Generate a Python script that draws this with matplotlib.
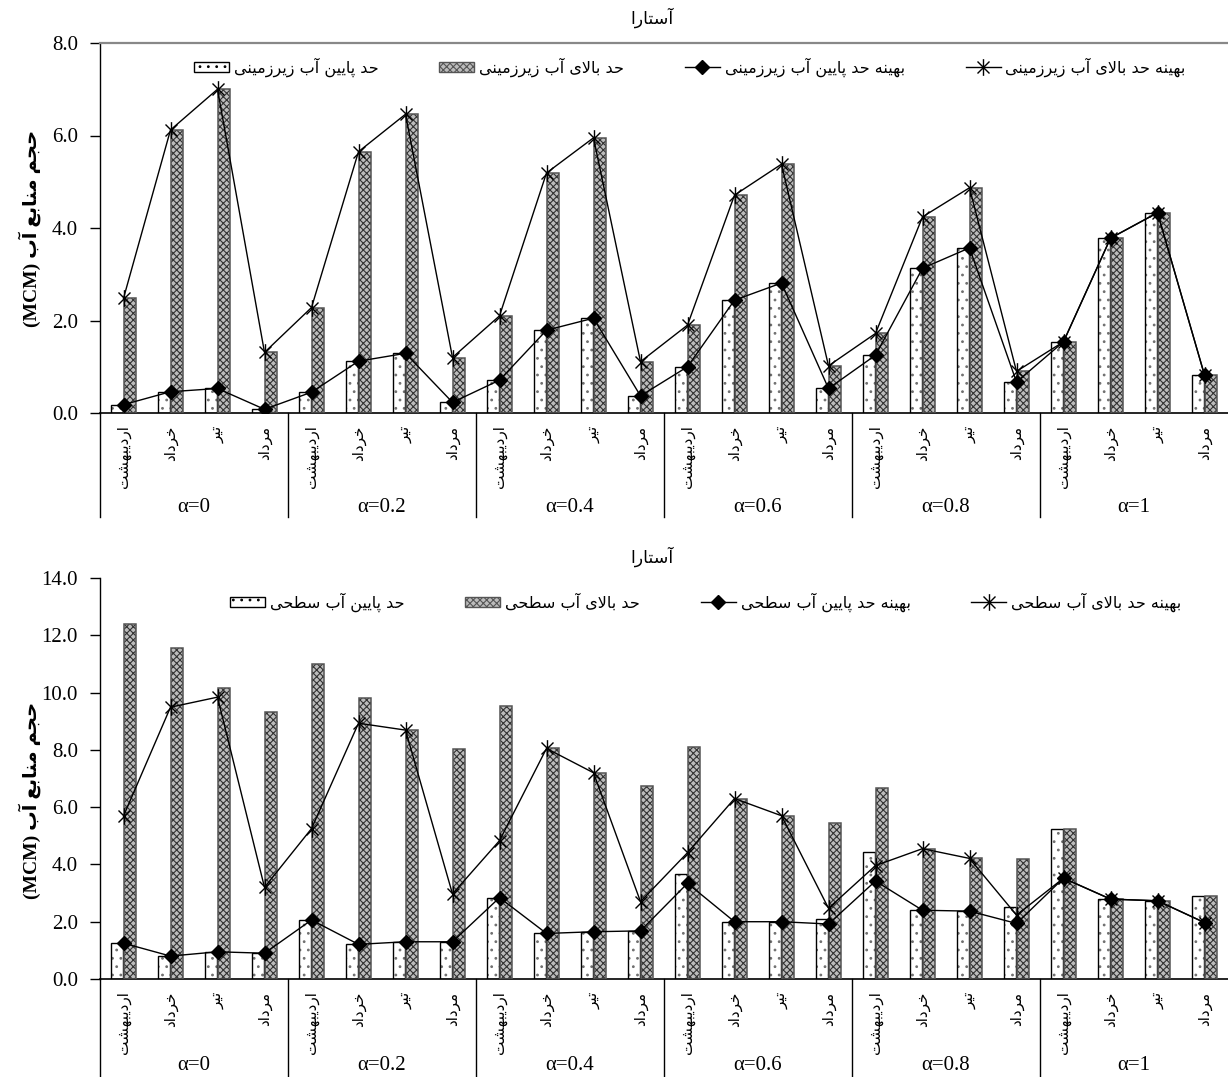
import numpy as np
import matplotlib
matplotlib.use('Agg')
import matplotlib.pyplot as plt
from matplotlib.path import Path
from matplotlib.patches import Patch
from matplotlib.lines import Line2D
from matplotlib.ticker import FormatStrFormatter
from matplotlib.transforms import blended_transform_factory as btf

# ---------------- data ----------------
title_text = 'آستارا'
months = ['اردیبهشت', 'خرداد', 'تیر', 'مرداد']
alphas = ['α=0', 'α=0.2', 'α=0.4', 'α=0.6', 'α=0.8', 'α=1']

gw_labels = ['حد پایین آب زیرزمینی', 'حد بالای آب زیرزمینی',
             'بهینه حد پایین آب زیرزمینی', 'بهینه حد بالای آب زیرزمینی']
sw_labels = ['حد پایین آب سطحی', 'حد بالای آب سطحی',
             'بهینه حد پایین آب سطحی', 'بهینه حد بالای آب سطحی']
ylabel_fa = 'حجم منابع آب'
ylabel_unit = '(MCM)'

# groundwater (top chart)
gw_lower = [0.18, 0.46, 0.53, 0.08,
            0.45, 1.12, 1.29, 0.23,
            0.71, 1.79, 2.05, 0.37,
            1.00, 2.44, 2.81, 0.53,
            1.25, 3.13, 3.57, 0.67,
            1.54, 3.78, 4.33, 0.82]
gw_upper = [2.48, 6.12, 7.00, 1.31,
            2.28, 5.65, 6.46, 1.20,
            2.10, 5.19, 5.95, 1.11,
            1.90, 4.71, 5.38, 1.02,
            1.72, 4.24, 4.87, 0.90,
            1.54, 3.78, 4.33, 0.82]
gw_opt_lower = [0.18, 0.46, 0.53, 0.08,
                0.45, 1.12, 1.29, 0.23,
                0.71, 1.79, 2.05, 0.37,
                1.00, 2.44, 2.81, 0.53,
                1.25, 3.13, 3.57, 0.67,
                1.54, 3.78, 4.33, 0.82]
gw_opt_upper = [2.48, 6.12, 7.00, 1.31,
                2.28, 5.65, 6.46, 1.20,
                2.10, 5.19, 5.95, 1.11,
                1.90, 4.71, 5.38, 1.02,
                1.72, 4.24, 4.87, 0.90,
                1.54, 3.78, 4.33, 0.82]

# surface water (bottom chart)
sw_lower = [1.25, 0.80, 0.95, 0.90,
            2.06, 1.21, 1.30, 1.30,
            2.84, 1.59, 1.65, 1.68,
            3.65, 2.00, 2.00, 2.08,
            4.45, 2.40, 2.37, 2.50,
            5.25, 2.79, 2.73, 2.90]
sw_upper = [12.40, 11.57, 10.17, 9.31,
            10.99, 9.82, 8.69, 8.03,
            9.54, 8.05, 7.20, 6.74,
            8.11, 6.30, 5.70, 5.46,
            6.68, 4.55, 4.21, 4.18,
            5.25, 2.79, 2.73, 2.90]
sw_opt_lower = [1.25, 0.80, 0.95, 0.90,
                2.06, 1.21, 1.30, 1.30,
                2.84, 1.59, 1.65, 1.68,
                3.34, 2.00, 2.00, 1.92,
                3.42, 2.40, 2.37, 1.94,
                3.52, 2.79, 2.73, 1.97]
sw_opt_upper = [5.69, 9.49, 9.84, 3.20,
                5.25, 8.93, 8.69, 2.97,
                4.83, 8.05, 7.20, 2.70,
                4.41, 6.30, 5.70, 2.47,
                3.96, 4.55, 4.21, 2.23,
                3.52, 2.79, 2.73, 1.97]

# ---------------- Persian shaping (visual order) ----------------
FORMS = {
    'ا': ('\uFE8D', '\uFE8E', None, None),
    'آ': ('\uFE81', '\uFE82', None, None),
    'ب': ('\uFE8F', '\uFE90', '\uFE91', '\uFE92'),
    'پ': ('\uFB56', '\uFB57', '\uFB58', '\uFB59'),
    'ت': ('\uFE95', '\uFE96', '\uFE97', '\uFE98'),
    'ج': ('\uFE9D', '\uFE9E', '\uFE9F', '\uFEA0'),
    'ح': ('\uFEA1', '\uFEA2', '\uFEA3', '\uFEA4'),
    'خ': ('\uFEA5', '\uFEA6', '\uFEA7', '\uFEA8'),
    'د': ('\uFEA9', '\uFEAA', None, None),
    'ر': ('\uFEAD', '\uFEAE', None, None),
    'ز': ('\uFEAF', '\uFEB0', None, None),
    'س': ('\uFEB1', '\uFEB2', '\uFEB3', '\uFEB4'),
    'ش': ('\uFEB5', '\uFEB6', '\uFEB7', '\uFEB8'),
    'ط': ('\uFEC1', '\uFEC2', '\uFEC3', '\uFEC4'),
    'ع': ('\uFEC9', '\uFECA', '\uFECB', '\uFECC'),
    'ل': ('\uFEDD', '\uFEDE', '\uFEDF', '\uFEE0'),
    'م': ('\uFEE1', '\uFEE2', '\uFEE3', '\uFEE4'),
    'ن': ('\uFEE5', '\uFEE6', '\uFEE7', '\uFEE8'),
    'ه': ('\uFEE9', '\uFEEA', '\uFEEB', '\uFEEC'),
    'ی': ('\uFBFC', '\uFBFD', '\uFBFE', '\uFBFF'),
}
LAMALEF = {'ا': ('\uFEFB', '\uFEFC'), 'آ': ('\uFEF5', '\uFEF6')}


def shape(word):
    out = []
    i, n = 0, len(word)
    while i < n:
        c = word[i]
        if c not in FORMS:
            out.append(c)
            i += 1
            continue
        prev = word[i - 1] if i > 0 else ''
        join_prev = prev in FORMS and FORMS[prev][2] is not None
        if c == 'ل' and i + 1 < n and word[i + 1] in LAMALEF:
            lig = LAMALEF[word[i + 1]]
            out.append(lig[1] if join_prev else lig[0])
            i += 2
            continue
        nxt = word[i + 1] if i + 1 < n else ''
        join_next = FORMS[c][2] is not None and nxt in FORMS
        iso, fin, ini, med = FORMS[c]
        if join_prev and join_next:
            g = med
        elif join_prev:
            g = fin
        elif join_next:
            g = ini
        else:
            g = iso
        out.append(g)
        i += 1
    return ''.join(out)


def fa(s):
    return shape(s)[::-1]


# ---------------- styling ----------------
plt.rcParams['hatch.linewidth'] = 0.8
FA_FONT = ['DejaVu Sans']
NUM_FONT = ['Liberation Serif', 'DejaVu Serif']
UP_FACE = '#bcbcbc'
UP_HATCH = '#333333'

star = Path([(0, -1), (0, 1), (-0.72, -0.72), (0.72, 0.72), (-0.72, 0.72), (0.72, -0.72)],
            [Path.MOVETO, Path.LINETO, Path.MOVETO, Path.LINETO, Path.MOVETO, Path.LINETO])

W, H = 1228, 1077
fig = plt.figure(figsize=(W / 100, H / 100), dpi=100)

ax1 = fig.add_axes([100 / W, 1 - 413 / H, 1128 / W, 370 / H])
ax2 = fig.add_axes([100 / W, 1 - 979 / H, 1128 / W, 401 / H])

x = np.arange(len(months) * len(alphas))
bw = 0.24
off = 0.14


def draw(ax, lower, upper, opt_lower, opt_upper, labels, ymax, leg_x, sep_depth, alpha_y, top_spine):
    ax.bar(x - off, lower, bw, color='white', edgecolor='#707070', hatch='..', linewidth=0, zorder=2)
    ax.bar(x - off, lower, bw, fill=False, edgecolor='black', linewidth=1.0, zorder=3)
    ax.bar(x + off, upper, bw, color=UP_FACE, edgecolor=UP_HATCH, hatch='xxxxx', linewidth=0, zorder=2)
    ax.bar(x + off, upper, bw, fill=False, edgecolor='#555555', linewidth=1.1, zorder=3)
    ax.plot(x, opt_lower, color='black', lw=1.0, marker='D', ms=7.5, zorder=5)
    ax.plot(x, opt_upper, color='black', lw=1.0, marker=star, ms=12, mew=1.0,
            mfc='none', mec='black', zorder=5)

    ax.set_xlim(-0.5, len(x) - 0.5)
    ax.set_ylim(0, ymax)
    ax.set_yticks(np.arange(0, ymax + 0.01, 2))
    ax.yaxis.set_major_formatter(FormatStrFormatter('%.1f'))
    ax.tick_params(axis='y', direction='out', length=7, width=1, pad=9)
    for t in ax.get_yticklabels():
        t.set_fontfamily(NUM_FONT)
        t.set_fontsize(15)

    ax.set_xticks(x)
    ax.set_xticklabels([fa(m) for m in months] * len(alphas), rotation=90,
                       va='top', ha='center', fontsize=11, fontfamily=FA_FONT)
    ax.tick_params(axis='x', length=0, pad=9)

    ax.spines['right'].set_visible(False)
    if top_spine:
        ax.spines['top'].set_color('#888888')
        ax.spines['top'].set_linewidth(1.6)
    else:
        ax.spines['top'].set_visible(False)
    ax.spines['left'].set_linewidth(1.0)
    ax.spines['bottom'].set_linewidth(1.2)

    tr = btf(ax.transData, ax.transAxes)
    for b in np.arange(-0.5, len(x) - 1, len(months)):
        ax.plot([b, b], [0, -sep_depth], transform=tr, color='black', lw=1.0, clip_on=False)
    for g, a in enumerate(alphas):
        ax.text(g * len(months) + (len(months) - 1) / 2, -alpha_y, a, transform=tr,
                ha='center', va='center', fontsize=15, fontfamily=NUM_FONT)

    handles = [Patch(facecolor='white', edgecolor='black', hatch='..', linewidth=1.0),
               Patch(facecolor=UP_FACE, edgecolor='#555555', hatch='xxxxx', linewidth=1.0),
               Line2D([], [], color='black', lw=1.0, marker='D', ms=7.5),
               Line2D([], [], color='black', lw=1.0, marker=star, ms=12, mfc='none', mec='black')]
    ax.legend(handles, [fa(l) for l in labels], ncol=4, loc='upper center',
              bbox_to_anchor=(leg_x, 1.0), frameon=False,
              prop={'family': FA_FONT, 'size': 11.5}, columnspacing=3.8,
              handlelength=2.2, handleheight=0.6, handletextpad=0.3, borderaxespad=0.5)


draw(ax1, gw_lower, gw_upper, gw_opt_lower, gw_opt_upper, gw_labels, 8,
     0.523, (517 - 413) / 370, (507 - 413) / 370, True)
draw(ax2, sw_lower, sw_upper, sw_opt_lower, sw_opt_upper, sw_labels, 14,
     0.537, (1077 - 979) / 401, (1066 - 979) / 401, False)

ylab = ylabel_unit + ' ' + fa(ylabel_fa)
for yc in (228, 800):
    fig.text(30 / W, 1 - yc / H, ylab, rotation=90, ha='center', va='center',
             fontsize=14, fontweight='bold', fontfamily=['Liberation Serif', 'DejaVu Sans'])
for yc in (18, 557):
    fig.text(652 / W, 1 - yc / H, fa(title_text), ha='center', va='center',
             fontsize=12.5, fontfamily=FA_FONT)

fig.savefig('out.png', dpi=100)
